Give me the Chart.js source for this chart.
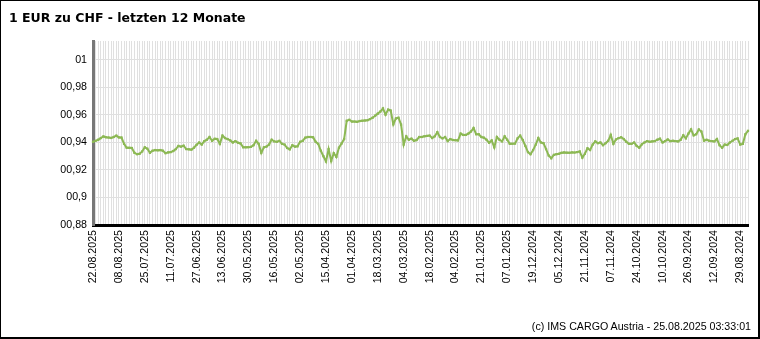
<!DOCTYPE html>
<html>
<head>
<meta charset="utf-8">
<script src="https://cdn.jsdelivr.net/npm/chart.js@4/dist/chart.umd.min.js"></script>
<style>
  body { margin: 0; background: #fff; }
  #wrap { position: relative; width: 760px; height: 339px; overflow: hidden; }
  #frame { position: absolute; left: 0; top: 0; width: 757px; height: 336px; border: 1px solid #000; border-right-width: 2px; border-bottom-width: 2px; pointer-events: none; }
  #title { position: absolute; left: 9px; top: 10px; font: bold 12.5px/15px "DejaVu Sans", Verdana, sans-serif; color: #000; }
  #footer { position: absolute; right: 9px; top: 320px; font: 10.67px "Liberation Sans", Arial, sans-serif; color: #000; }
  canvas { position: absolute; left: 0; top: 0; }
</style>
</head>
<body>
<div id="wrap">
  <canvas id="chart" width="760" height="339"></canvas>
  <div id="title">1 EUR zu CHF - letzten 12 Monate</div>
  <div id="footer">(c) IMS CARGO Austria - 25.08.2025 03:33:01</div>
  <div id="frame"></div>
</div>
<script>
// one label every 10 trading days, newest first
const tickLabels = [
  '22.08.2025', '08.08.2025', '25.07.2025', '11.07.2025', '27.06.2025',
  '13.06.2025', '30.05.2025', '16.05.2025', '02.05.2025', '15.04.2025',
  '01.04.2025', '18.03.2025', '04.03.2025', '18.02.2025', '04.02.2025',
  '21.01.2025', '07.01.2025', '19.12.2024', '05.12.2024', '21.11.2024',
  '07.11.2024', '24.10.2024', '10.10.2024', '26.09.2024', '12.09.2024',
  '29.08.2024'
];

const yTicks = [0.88, 0.9, 0.92, 0.94, 0.96, 0.98, 1];

// EUR/CHF, newest first (22.08.2025 back to 26.08.2024)
const rates = [
  0.9405, 0.9412, 0.9420, 0.9432, 0.9444, 0.9438, 0.9436, 0.9433, 0.9440, 0.9450,
  0.9437, 0.9436, 0.9390, 0.9362, 0.9361, 0.9360, 0.9325, 0.9315, 0.9318, 0.9335,
  0.9365, 0.9355, 0.9325, 0.9340, 0.9345, 0.9343, 0.9345, 0.9340, 0.9322, 0.9328,
  0.9330, 0.9338, 0.9352, 0.9375, 0.9370, 0.9377, 0.9352, 0.9350, 0.9348, 0.9362,
  0.9383, 0.9400, 0.9385, 0.9410, 0.9420, 0.9440, 0.9412, 0.9427, 0.9425, 0.9390,
  0.9450, 0.9432, 0.9425, 0.9415, 0.9400, 0.9410, 0.9398, 0.9393, 0.9365, 0.9365,
  0.9366, 0.9368, 0.9380, 0.9412, 0.9390, 0.9325, 0.9365, 0.9370, 0.9385, 0.9420,
  0.9408, 0.9405, 0.9412, 0.9390, 0.9385, 0.9360, 0.9350, 0.9380, 0.9370, 0.9372,
  0.9405, 0.9412, 0.9435, 0.9440, 0.9440, 0.9438, 0.9405, 0.9390, 0.9340, 0.9300,
  0.9262, 0.9352, 0.9265, 0.9322, 0.9295, 0.9362, 0.9392, 0.9425, 0.9558, 0.9565,
  0.9552, 0.9552, 0.9550, 0.9556, 0.9558, 0.9560, 0.9562, 0.9570, 0.9580, 0.9595,
  0.9610, 0.9625, 0.9648, 0.9602, 0.9639, 0.9632, 0.9532, 0.9575, 0.9580, 0.9530,
  0.9385, 0.9445, 0.9420, 0.9428, 0.9412, 0.9418, 0.9440, 0.9440, 0.9445, 0.9448,
  0.9450, 0.9432, 0.9445, 0.9475, 0.9440, 0.9430, 0.9440, 0.9410, 0.9425, 0.9418,
  0.9417, 0.9415, 0.9465, 0.9455, 0.9455, 0.9465, 0.9480, 0.9505, 0.9460, 0.9460,
  0.9440, 0.9435, 0.9420, 0.9398, 0.9415, 0.9365, 0.9440, 0.9420, 0.9408, 0.9445,
  0.9420, 0.9390, 0.9391, 0.9392, 0.9430, 0.9450, 0.9418, 0.9375, 0.9330, 0.9315,
  0.9345, 0.9385, 0.9432, 0.9400, 0.9395, 0.9352, 0.9305, 0.9285, 0.9310, 0.9315,
  0.9318, 0.9325, 0.9328, 0.9326, 0.9325, 0.9328, 0.9327, 0.9330, 0.9335, 0.9290,
  0.9318, 0.9358, 0.9345, 0.9385, 0.9408, 0.9395, 0.9400, 0.9380, 0.9395, 0.9412,
  0.9455, 0.9390, 0.9422, 0.9432, 0.9438, 0.9425, 0.9405, 0.9390, 0.9390, 0.9400,
  0.9375, 0.9362, 0.9387, 0.9400, 0.9410, 0.9405, 0.9408, 0.9410, 0.9420, 0.9428,
  0.9400, 0.9410, 0.9422, 0.9410, 0.9412, 0.9410, 0.9408, 0.9420, 0.9452, 0.9430,
  0.9465, 0.9495, 0.9452, 0.9460, 0.9495, 0.9480, 0.9413, 0.9420, 0.9413, 0.9410,
  0.9408, 0.9425, 0.9380, 0.9362, 0.9385, 0.9382, 0.9400, 0.9412, 0.9425, 0.9430,
  0.9385, 0.9390, 0.9460, 0.9485
];

const labels = rates.map((_, i) => (i % 10 === 0 && tickLabels[i / 10]) ? tickLabels[i / 10] : '');

const tickFont = { family: '"Liberation Sans", Arial, sans-serif', size: 10.67 };
const lineColor = '#8cb854';

new Chart(document.getElementById('chart'), {
  type: 'line',
  data: {
    labels,
    datasets: [{
      data: rates,
      borderColor: lineColor,
      backgroundColor: lineColor,
      borderWidth: 2,
      pointStyle: 'rect',
      pointRadius: 1.6,
      pointBorderWidth: 0,
      tension: 0
    }]
  },
  options: {
    responsive: false,
    animation: false,
    layout: { padding: { left: 0, right: 12, top: 41, bottom: 0 } },
    plugins: {
      legend: { display: false },
      tooltip: { enabled: false }
    },
    scales: {
      x: {
        type: 'category',
        offset: false,
        afterFit: scale => {
          scale.height = 114;
          scale.paddingLeft = 0;
          scale.paddingRight = 0;
        },
        grid: { color: '#e0e0e0', lineWidth: 1, drawTicks: false },
        border: { color: '#000', width: 3 },
        ticks: {
          autoSkip: false,
          minRotation: 90,
          maxRotation: 90,
          padding: 5,
          color: '#000',
          font: tickFont
        }
      },
      y: {
        min: 0.88,
        max: 1.0138,
        afterFit: scale => { scale.width = 93; },
        afterBuildTicks: scale => { scale.ticks = yTicks.map(v => ({ value: v })); },
        grid: { color: '#e0e0e0', lineWidth: 1, drawTicks: false },
        border: { color: '#777', width: 3 },
        ticks: {
          padding: 6,
          color: '#000',
          font: tickFont,
          callback: v => '0' + String(+v.toFixed(2)).replace('.', ',')
        }
      }
    }
  }
});
</script>
</body>
</html>
